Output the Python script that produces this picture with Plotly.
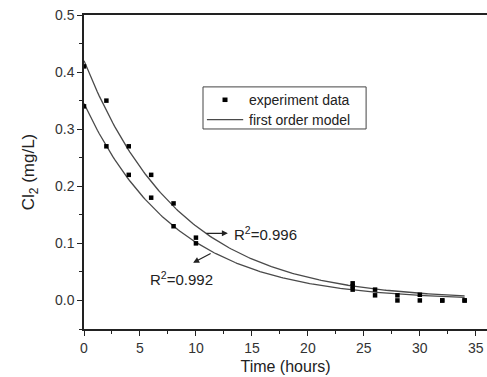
import numpy as np
import plotly.graph_objects as go

time_a = [0, 2, 4, 6, 8, 10, 24, 26, 28, 30, 32, 34]
cl2_a = [0.41, 0.35, 0.27, 0.22, 0.17, 0.11, 0.030, 0.019, 0.009, 0.010, 0.0, 0.0]
time_b = [0, 2, 4, 6, 8, 10, 24, 24, 26, 28, 30, 32, 34]
cl2_b = [0.34, 0.27, 0.22, 0.18, 0.13, 0.10, 0.025, 0.019, 0.009, 0.0, 0.0, 0.0, 0.0]

# First order model parameters (C = C0 * exp(-k t))
model_c0 = [0.42, 0.345]
model_k = [0.117, 0.122]
model_tmax = 34

legend_labels = ["experiment data", "first order model"]
r2_labels = ["R<sup>2</sup>=0.996", "R<sup>2</sup>=0.992"]

x_ticks = [0, 5, 10, 15, 20, 25, 30, 35]
y_ticks = [0.0, 0.1, 0.2, 0.3, 0.4, 0.5]

FONT = "Liberation Sans, Arial, sans-serif"
INK = "#222"
fig = go.Figure()

t_model = np.linspace(0, model_tmax, 200)
for i, (c0, k) in enumerate(zip(model_c0, model_k)):
    fig.add_trace(go.Scatter(
        x=t_model, y=c0 * np.exp(-k * t_model), mode="lines",
        line=dict(color="#4a4a4a", width=1.3),
        name=legend_labels[1], showlegend=False))

fig.add_trace(go.Scatter(
    x=time_a + time_b, y=cl2_a + cl2_b, mode="markers",
    marker=dict(symbol="square", size=4.5, color="black"),
    name=legend_labels[0], showlegend=False))

ann = []
# R2 = 0.996 arrow (from upper curve to text) and label
ann.append(dict(x=12.85, y=0.1175, ax=-23, ay=0, xref="x", yref="y", text="",
                showarrow=True, arrowhead=2, arrowsize=1, arrowwidth=1.2, arrowcolor=INK))
ann.append(dict(x=13.2, y=0.1175, xref="x", yref="y", text=r2_labels[0], showarrow=False,
                xanchor="left", yanchor="middle", font=dict(size=15, color=INK, family=FONT)))
# R2 = 0.992 arrow and label
ann.append(dict(x=9.75, y=0.066, ax=19, ay=-10, xref="x", yref="y", text="",
                showarrow=True, arrowhead=2, arrowsize=1, arrowwidth=1.2, arrowcolor=INK))
ann.append(dict(x=8.7, y=0.039, xref="x", yref="y", text=r2_labels[1], showarrow=False,
                xanchor="center", yanchor="middle", font=dict(size=15, color=INK, family=FONT)))

# Legend box (drawn by hand, in plot-area fractions)
LX0, LX1, LY0, LY1 = 0.2953, 0.700, 0.637, 0.771
row_y = [0.730, 0.667]
shapes = [
    dict(type="rect", xref="paper", yref="paper", x0=LX0, x1=LX1, y0=LY0, y1=LY1,
         line=dict(color="#444", width=1), fillcolor="white", layer="above"),
    dict(type="rect", xref="paper", yref="paper", x0=0.3437, x1=0.3561,
         y0=row_y[0] - 0.0072, y1=row_y[0] + 0.0072,
         line=dict(width=0), fillcolor="black", layer="above"),
    dict(type="line", xref="paper", yref="paper", x0=0.305, x1=0.395,
         y0=row_y[1], y1=row_y[1], line=dict(color="#4a4a4a", width=1.3), layer="above"),
]
for lab, ry in zip(legend_labels, row_y):
    ann.append(dict(x=0.4045, y=ry, xref="paper", yref="paper", text=lab, showarrow=False,
                    xanchor="left", yanchor="middle", font=dict(size=14, color=INK, family=FONT)))

fig.update_layout(
    width=487, height=377,
    margin=dict(l=84, r=0, t=15, b=48),
    paper_bgcolor="white", plot_bgcolor="white",
    font=dict(family=FONT, color="#333", size=14),
    showlegend=False,
    hovermode=False,
    annotations=ann,
    shapes=shapes,
)
fig.update_xaxes(
    range=[0, 36], tickvals=x_ticks, ticks="outside", ticklen=5, tickwidth=1.3,
    tickcolor=INK, showline=True, linecolor=INK, linewidth=1.5, mirror=True,
    showgrid=False, zeroline=False, tickfont=dict(size=14, color="#333"),
    ticklabeloverflow="allow",
    minor=dict(dtick=2.5, ticks="outside", ticklen=3, tickwidth=1.2, tickcolor=INK),
    title=dict(text="Time (hours)", font=dict(size=16, color=INK), standoff=6),
)
fig.update_yaxes(
    range=[-0.05, 0.5], tickvals=y_ticks, tickformat=".1f", ticks="outside", ticklen=5,
    tickwidth=1.3, tickcolor=INK, showline=True, linecolor=INK, linewidth=1.5,
    showgrid=False, zeroline=False, tickfont=dict(size=14, color="#333"),
    ticklabeloverflow="allow",
    minor=dict(dtick=0.05, ticks="outside", ticklen=3, tickwidth=1.2, tickcolor=INK),
    title=dict(text="Cl<sub>2</sub> (mg/L)", font=dict(size=17, color=INK), standoff=16),
)

# remove the browser's default 8px page margin so the figure fills the window
fig.write_html("out.html", config={"displayModeBar": False},
               post_script="document.body.style.margin='0';")
